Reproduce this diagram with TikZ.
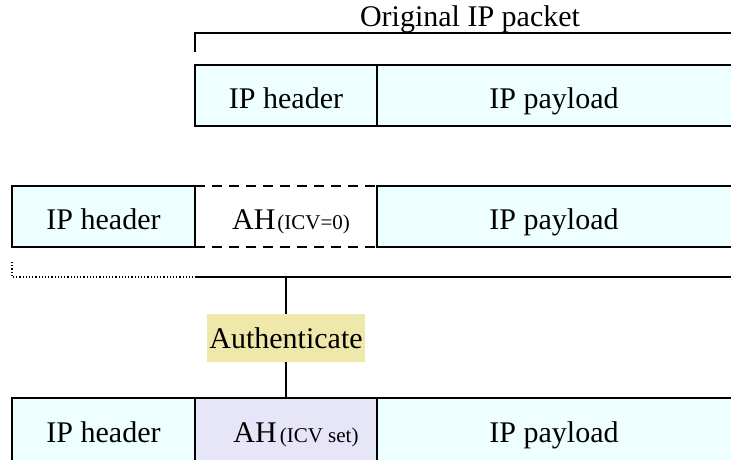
\documentclass[tikz,border=0pt]{standalone}
\usepackage{fontspec}
\setmainfont{Liberation Serif}
\definecolor{pktcyan}{HTML}{EEFFFF}
\definecolor{ahlav}{HTML}{E6E6F8}
\definecolor{authyel}{HTML}{EEE8AA}
\begin{document}
\begin{tikzpicture}[x=1pt,y=-1pt,
  every node/.style={inner sep=0pt, outer sep=0pt},
  txt/.style={font=\fontsize{30}{34}\selectfont},
  field/.style={txt, minimum height=61pt, text height=28pt, text depth=3pt},
  cell/.style={field, draw, line width=1.6pt, fill=pktcyan},
  % payload cells run on past the right margin; the text stays centred in the visible part
  tail/.style={cell, minimum width=384pt},
  link/.style={line width=1.4pt},
  dashedge/.style={line width=1.6pt, dash pattern=on 10pt off 7pt},
  dots/.style={line width=1.3pt, dash pattern=on 1.2pt off 2pt},
]
\useasboundingbox (0,0) rectangle (731,459);
\clip (0,0) rectangle (731,459);

% original packet
\node[txt, anchor=base] (title) at (470,26) {Original IP packet};
\coordinate (brk) at (195,52);
\coordinate (brkend) at (745,33);
\draw[link] (brk) |- (brkend);
\node[cell, minimum width=182pt] (hdrA) at (286,95.5) {IP header};
\node[tail] (payA) at (569,95.5) {IP payload\hspace*{30pt}};

% packet with AH inserted, ICV zeroed
\node[cell, minimum width=183pt] (hdrB) at (103.5,216.5) {IP header};
\node[field, minimum width=182pt] (ahB) at (286,216.5)
  {\hspace*{10pt}AH\hspace{2pt}{\fontsize{21}{24}\selectfont(ICV=0)}};
\node[tail] (payB) at (569,216.5) {IP payload\hspace*{30pt}};
\draw[dashedge] (ahB.north west) -- (ahB.north east);
\draw[dashedge] (ahB.south west) -- (ahB.south east);

% authenticated span
\coordinate (spanL) at (12,262);
\coordinate (spanM) at (195,277);
\coordinate (spanR) at (745,277);
\coordinate (tap) at (286,277);
\draw[dots] (spanL) |- (spanM);
\draw[link] (spanM) -- (spanR);

\node[txt, fill=authyel, minimum width=158pt, minimum height=48pt] (auth) at (286,338) {Authenticate};

% final packet with ICV set
\node[cell, minimum width=183pt, minimum height=63pt] (hdrC) at (103.5,429.5) {IP header};
\node[cell, minimum width=182pt, minimum height=63pt, fill=ahlav] (ahC) at (286,429.5)
  {\hspace*{20pt}AH\hspace{3pt}{\fontsize{21}{24}\selectfont(ICV set)}};
\node[tail, minimum height=63pt] (payC) at (569,429.5) {IP payload\hspace*{30pt}};

\draw[link] (tap) -- (auth.north);
\draw[link] (auth.south) -- (ahC.north);
\end{tikzpicture}
\end{document}
